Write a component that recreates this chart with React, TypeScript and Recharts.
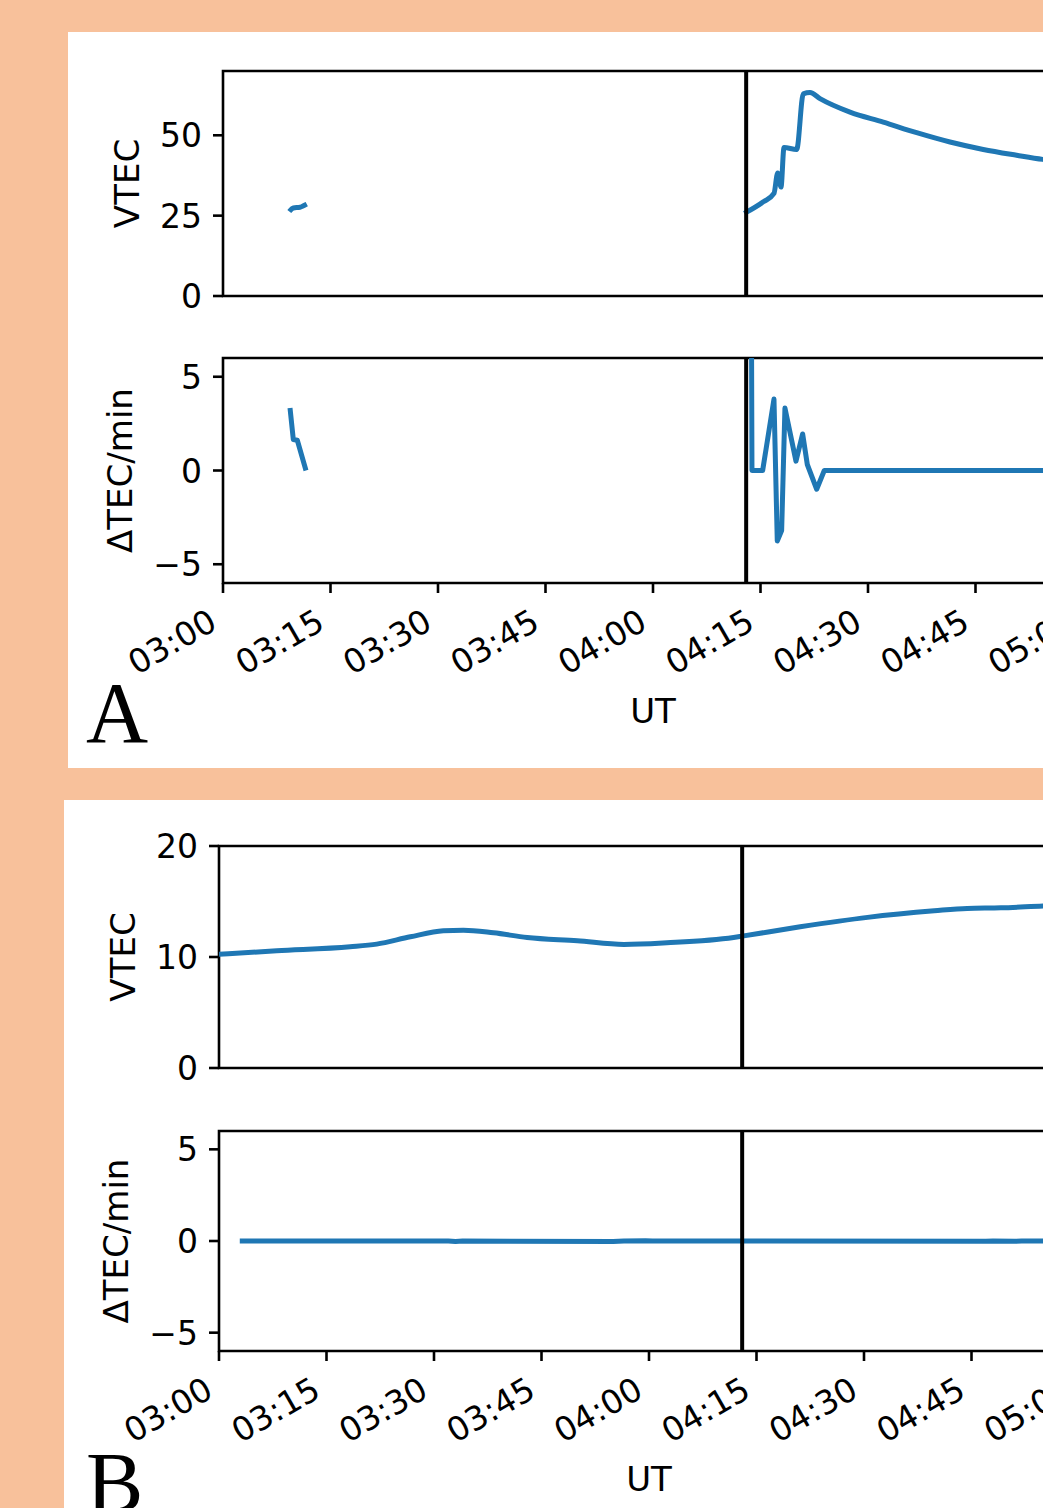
import React from 'react';
import { LineChart, Line, XAxis, YAxis, ReferenceLine, ReferenceArea } from 'recharts';

// ---------- shared ----------
const timeTicks = [0, 15, 30, 45, 60, 75, 90, 105, 120]; // minutes after 03:00
const eventTime = 73; // 04:13 UT

// ---------- Panel A ----------
const aVtecTime1 = [9.25, 9.81, 10.74, 11.16, 11.68];
const aVtecValue1 = [26.3, 27.4, 27.6, 28.0, 28.6];
const aVtecTime2 = [72.74, 75.39, 76.88, 77.4, 77.86, 78.28, 80.05, 80.97, 81.91, 83.3, 87.49, 92.13, 96.79, 101.44, 106.08, 110.74, 114.4, 120];
const aVtecValue2 = [25.7, 29.3, 31.9, 38.3, 33.9, 46.2, 45.6, 62.9, 63.3, 61.4, 57.2, 54.1, 50.8, 47.9, 45.6, 43.8, 42.5, 41.3];

const aDtecTime1 = [9.35, 9.81, 10.37, 11.58];
const aDtecValue1 = [3.33, 1.65, 1.61, 0];
const aDtecTime2 = [73.63, 73.81, 75.3, 76.88, 77.34, 77.95, 78.41, 79.95, 80.88, 81.53, 82.84, 83.9, 120];
const aDtecValue2 = [20, 0, 0, 3.81, -3.76, -3.2, 3.33, 0.5, 1.95, 0.32, -1.0, 0, 0];

// ---------- Panel B ----------
const bVtecTime = [0, 8.06, 18.3, 22.0, 26.7, 31.3, 34.1, 38.3, 43.0, 50.0, 56.5, 62.5, 71.8, 73.0, 81.1, 90.5, 99.8, 104.4, 109.1, 115.1, 120];
const bVtecValue = [10.25, 10.56, 10.92, 11.16, 11.82, 12.36, 12.42, 12.18, 11.76, 11.46, 11.13, 11.28, 11.76, 11.88, 12.72, 13.57, 14.16, 14.38, 14.43, 14.6, 14.7];

const bDtecTime = [2.9, 32, 33, 34, 55, 56.5, 59.5, 60.5, 107, 108, 111, 112, 120];
const bDtecValue = [0, 0, -0.03, 0, -0.03, 0, 0.02, 0, -0.02, 0, -0.02, 0, 0];

type Pt = { t: number; v: number | null };

function seg(times: number[], values: number[]): Pt[] {
  return times.map((t, i) => ({ t, v: values[i] }));
}
function withGap(a: Pt[], b: Pt[]): Pt[] {
  const gapT = (a[a.length - 1].t + b[0].t) / 2;
  return [...a, { t: gapT, v: null }, ...b];
}

const aVtecData = withGap(seg(aVtecTime1, aVtecValue1), seg(aVtecTime2, aVtecValue2));
const aDtecData = withGap(seg(aDtecTime1, aDtecValue1), seg(aDtecTime2, aDtecValue2));
const bVtecData = seg(bVtecTime, bVtecValue);
const bDtecData = seg(bDtecTime, bDtecValue);

const FONT = "'DejaVu Sans', sans-serif";
const BLUE = '#1f77b4';
const ORANGE = '#F8C19B';

function fmtTime(m: number) {
  const h = 3 + Math.floor(m / 60);
  const mm = Math.round(m % 60);
  return `${String(h).padStart(2, '0')}:${String(mm).padStart(2, '0')}`;
}
function fmtY(v: number) {
  return v < 0 ? '\u2212' + Math.abs(v) : String(v);
}

type SubProps = {
  data: Pt[];
  left: number;
  right: number;
  top: number;
  bottom: number;
  chartHeight: number;
  yDomain: [number, number];
  yTicks: number[];
  yLabel: string;
  yLabelOffset: number;
  xLabels: boolean;
  curve: 'linear' | 'monotone';
};

function Subplot(p: SubProps) {
  const W = 1150;
  const YTick = (tp: any) => (
    <text x={tp.x} y={tp.y} dy={12} textAnchor="end" fontSize={33} fontFamily={FONT} fill="#000">
      {fmtY(tp.payload.value)}
    </text>
  );
  const XTick = (tp: any) => {
    const ax = tp.x - 4;
    const ay = tp.y + 35;
    return (
      <text x={ax} y={ay} textAnchor="end" transform={`rotate(-30 ${ax} ${ay})`} fontSize={33} fontFamily={FONT} fill="#000">
        {fmtTime(tp.payload.value)}
      </text>
    );
  };
  const cy = (p.top + p.bottom) / 2;
  const lx = p.left - p.yLabelOffset;
  const yLabelRender = () => (
    <text x={lx} y={cy} textAnchor="middle" transform={`rotate(-90 ${lx} ${cy})`} fontSize={34} fontFamily={FONT} fill="#000">
      {p.yLabel}
    </text>
  );
  const xLabelRender = () => (
    <text x={(p.left + p.right) / 2} y={p.bottom + 140} textAnchor="middle" fontSize={34} fontFamily={FONT} fill="#000">
      UT
    </text>
  );
  return (
    <div style={{ position: 'absolute', left: 0, top: 0 }}>
      <LineChart width={W} height={p.chartHeight} data={p.data} margin={{ top: p.top, right: W - p.right, left: 0, bottom: 0 }}>
        <XAxis
          dataKey="t"
          type="number"
          domain={[0, 120]}
          ticks={timeTicks}
          interval={0}
          allowDataOverflow
          tick={p.xLabels ? XTick : false}
          tickSize={10}
          tickMargin={0}
          tickLine={{ stroke: '#000', strokeWidth: 2.6 }}
          axisLine={false}
          height={p.chartHeight - p.bottom}
          label={p.xLabels ? xLabelRender : undefined}
        />
        <YAxis
          type="number"
          domain={p.yDomain}
          ticks={p.yTicks}
          interval={0}
          allowDataOverflow
          width={p.left}
          tick={YTick}
          tickSize={10}
          tickMargin={11}
          tickLine={{ stroke: '#000', strokeWidth: 2.6 }}
          axisLine={false}
          label={yLabelRender}
        />
        <ReferenceArea x1={0} x2={120} y1={p.yDomain[0]} y2={p.yDomain[1]} fill="none" fillOpacity={0} stroke="#000" strokeWidth={2.6} strokeOpacity={1} ifOverflow="visible" />
        <Line
          type={p.curve}
          dataKey="v"
          stroke={BLUE}
          strokeWidth={5}
          strokeLinejoin="round"
          dot={false}
          activeDot={false}
          isAnimationActive={false}
          connectNulls={false}
        />
        <ReferenceLine x={eventTime} stroke="#000" strokeWidth={4} strokeOpacity={1} />
      </LineChart>
    </div>
  );
}

export default function App() {
  return (
    <div style={{ position: 'absolute', left: 0, top: 0, width: 1043, height: 1508, overflow: 'hidden', background: ORANGE }}>
      <div style={{ position: 'absolute', left: 68, top: 32, width: 1043 - 68, height: 736, background: '#fff' }} />
      <div style={{ position: 'absolute', left: 64, top: 800, width: 1043 - 64, height: 708, background: '#fff' }} />

      <Subplot data={aVtecData} left={223} right={1083} top={71} bottom={296} chartHeight={320} yDomain={[0, 70]} yTicks={[0, 25, 50]} yLabel="VTEC" yLabelOffset={84} xLabels={false} curve="monotone" />
      <Subplot data={aDtecData} left={223} right={1083} top={358} bottom={583} chartHeight={775} yDomain={[-6, 6]} yTicks={[-5, 0, 5]} yLabel="ΔTEC/min" yLabelOffset={91} xLabels={true} curve="linear" />

      <Subplot data={bVtecData} left={219} right={1079} top={846} bottom={1068} chartHeight={1090} yDomain={[0, 20]} yTicks={[0, 10, 20]} yLabel="VTEC" yLabelOffset={84} xLabels={false} curve="monotone" />
      <Subplot data={bDtecData} left={219} right={1079} top={1131} bottom={1351} chartHeight={1508} yDomain={[-6, 6]} yTicks={[-5, 0, 5]} yLabel="ΔTEC/min" yLabelOffset={91} xLabels={true} curve="linear" />

      <svg width={1043} height={1508} style={{ position: 'absolute', left: 0, top: 0, pointerEvents: 'none' }}>
        <text x={86} y={742} fontSize={86} fontFamily="Liberation Serif" fill="#000">A</text>
        <text x={86} y={1512} fontSize={86} fontFamily="Liberation Serif" fill="#000">B</text>
      </svg>
    </div>
  );
}
